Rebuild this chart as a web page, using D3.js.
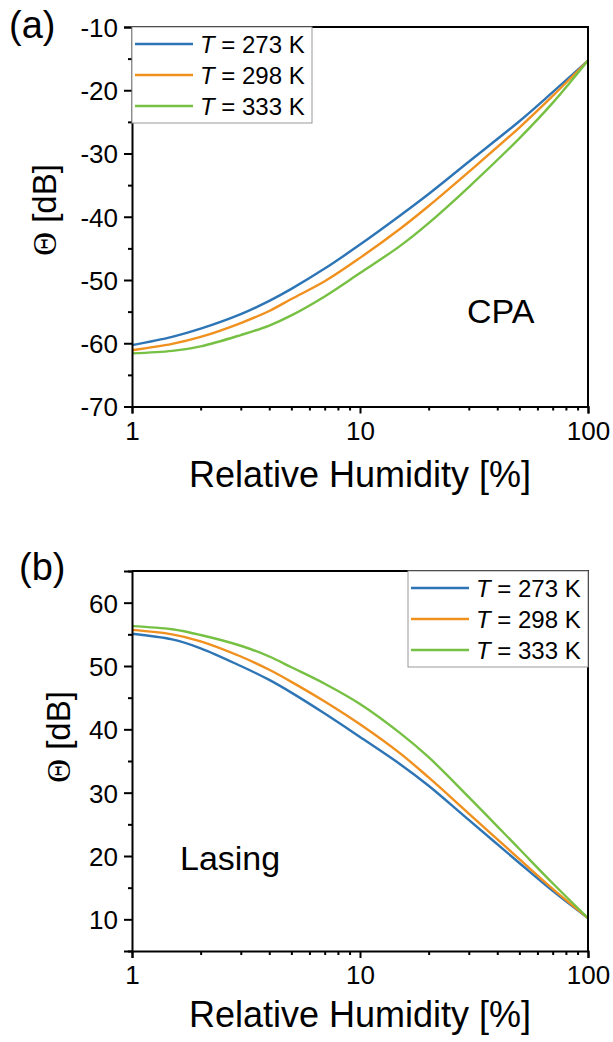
<!DOCTYPE html>
<html>
<head>
<meta charset="utf-8">
<script src="https://cdn.jsdelivr.net/npm/d3@7"></script>
<style>
  body { margin: 0; background: #fff; }
  svg { display: block; font-family: "Liberation Sans", Arial, sans-serif; }
</style>
</head>
<body>
<div id="chart"></div>
<script>
// relative humidity sample points [%]
const humidity = [1, 1.5, 2, 3, 4, 5, 7, 10, 15, 20, 30, 50, 70, 100];
const temperatures = [273, 298, 333];
const seriesColors = ["#2e75b6", "#f0901e", "#76c043"];

// (a) CPA, Theta in dB
const cpa273 = [-60.3, -59.0, -57.7, -55.4, -53.3, -51.4, -48.2, -44.4, -39.8, -36.4, -31.3, -24.9, -20.3, -15.3];
const cpa298 = [-61.1, -60.1, -59.0, -56.8, -54.9, -53.0, -50.2, -46.5, -41.9, -38.3, -32.9, -25.9, -20.9, -15.3];
const cpa333 = [-61.6, -61.2, -60.5, -58.7, -57.2, -55.6, -52.6, -48.9, -44.6, -41.0, -35.3, -27.6, -22.0, -15.3];

// (b) Lasing, Theta in dB
const las273 = [55.1, 54.2, 52.8, 50.0, 47.8, 45.8, 42.5, 38.8, 34.5, 31.1, 25.7, 18.9, 14.5, 10.2];
const las298 = [55.7, 55.0, 53.9, 51.5, 49.4, 47.5, 44.4, 40.8, 36.2, 32.4, 26.7, 19.5, 14.8, 10.2];
const las333 = [56.3, 55.8, 54.9, 53.2, 51.5, 49.8, 47.2, 44.0, 39.4, 35.6, 29.3, 21.1, 15.7, 10.2];

const xTicks = [1, 10, 100];
const xMinor = [2, 3, 4, 5, 6, 7, 8, 9, 20, 30, 40, 50, 60, 70, 80, 90];
const cpaTicks = [-70, -60, -50, -40, -30, -20, -10];
const cpaMinor = [-65, -55, -45, -35, -25, -15];
const lasTicks = [10, 20, 30, 40, 50, 60];
const lasMinor = [5, 15, 25, 35, 45, 55, 65];

const svg = d3.select("#chart").append("svg")
  .attr("width", 613)
  .attr("height", 1042);

function drawPanel(cfg) {
  const x = d3.scaleLog().domain([1, 100]).range([132, 588]);
  const y = d3.scaleLinear().domain(cfg.yDomain).range([cfg.bottom, cfg.top]);
  const g = svg.append("g");

  // curves
  const line = d3.line()
    .x((d, i) => x(humidity[i]))
    .y(d => y(d))
    .curve(d3.curveCatmullRom.alpha(0.5));

  cfg.series.forEach((s, i) => {
    g.append("path")
      .datum(s)
      .attr("d", line)
      .attr("fill", "none")
      .attr("stroke", seriesColors[i])
      .attr("stroke-width", 2.4);
  });

  // frame top/right
  g.append("path")
    .attr("d", `M132,${cfg.top}H588V${cfg.bottom}`)
    .attr("fill", "none")
    .attr("stroke", "#000")
    .attr("stroke-width", 2);

  // x axis
  const xa = g.append("g").attr("transform", `translate(0,${cfg.bottom})`)
    .call(d3.axisBottom(x).tickValues(xTicks).tickFormat(d => String(d)).tickSize(7).tickPadding(8));
  g.append("g").attr("transform", `translate(0,${cfg.bottom})`)
    .call(d3.axisBottom(x).tickValues(xMinor).tickFormat("").tickSize(4))
    .select(".domain").remove();

  // y axis
  const ya = g.append("g").attr("transform", "translate(132,0)")
    .call(d3.axisLeft(y).tickValues(cfg.yTicks).tickFormat(d => String(d)).tickSize(8).tickPadding(6));
  g.append("g").attr("transform", "translate(132,0)")
    .call(d3.axisLeft(y).tickValues(cfg.yMinor).tickFormat("").tickSize(4))
    .select(".domain").remove();

  g.selectAll(".domain").attr("stroke-width", 2);
  g.selectAll(".tick line").attr("stroke-width", 2);
  xa.selectAll("text").attr("font-size", 26).attr("fill", "#000")
    .attr("font-family", "Liberation Sans, Arial, sans-serif")
    .attr("dy", "0.71em");
  ya.selectAll("text").attr("font-size", 26).attr("fill", "#000")
    .attr("font-family", "Liberation Sans, Arial, sans-serif")
    .attr("dy", "0.36em");

  // axis titles
  g.append("text")
    .attr("x", 360).attr("y", cfg.xTitleY)
    .attr("text-anchor", "middle")
    .attr("font-size", 36)
    .text("Relative Humidity [%]");

  const yt = g.append("text")
    .attr("transform", `translate(${cfg.yTitleX},${cfg.yTitleY}) rotate(-90)`)
    .attr("text-anchor", "middle")
    .attr("font-size", 33);
  yt.append("tspan").attr("font-family", "Liberation Serif, serif").text("\u0398");
  yt.append("tspan").text(" [dB]");

  // panel letter
  g.append("text")
    .attr("x", cfg.letterX).attr("y", cfg.letterY)
    .attr("font-size", 38)
    .text(cfg.letter);

  // annotation
  g.append("text")
    .attr("x", cfg.noteX).attr("y", cfg.noteY)
    .attr("font-size", 34)
    .text(cfg.note);

  // legend
  const lg = g.append("g").attr("transform", `translate(${cfg.legendX},${cfg.top})`);
  lg.append("rect")
    .attr("x", 0).attr("y", 0)
    .attr("width", cfg.legendW).attr("height", 96)
    .attr("fill", "#fff")
    .attr("stroke", "#999")
    .attr("stroke-width", 1);
  temperatures.forEach((t, i) => {
    const ry = 17 + i * 31;
    lg.append("line")
      .attr("x1", 3).attr("x2", 61)
      .attr("y1", ry).attr("y2", ry)
      .attr("stroke", seriesColors[i])
      .attr("stroke-width", 2.5);
    const tx = lg.append("text")
      .attr("x", 68).attr("y", ry + 9)
      .attr("font-size", 24);
    tx.append("tspan").attr("font-style", "italic").text("T");
    tx.append("tspan").text(` = ${t} K`);
  });
}

drawPanel({
  top: 27, bottom: 406.5,
  yDomain: [-70, -10], yTicks: cpaTicks, yMinor: cpaMinor,
  series: [cpa273, cpa298, cpa333],
  xTitleY: 487, yTitleX: 56, yTitleY: 210,
  letter: "(a)", letterX: 9, letterY: 38,
  note: "CPA", noteX: 467, noteY: 323,
  legendX: 132, legendW: 180
});

drawPanel({
  top: 571, bottom: 951,
  yDomain: [5, 65], yTicks: lasTicks, yMinor: lasMinor,
  series: [las273, las298, las333],
  xTitleY: 1027, yTitleX: 70, yTitleY: 737,
  letter: "(b)", letterX: 19, letterY: 580,
  note: "Lasing", noteX: 180, noteY: 870,
  legendX: 408, legendW: 180
});
</script>
</body>
</html>
